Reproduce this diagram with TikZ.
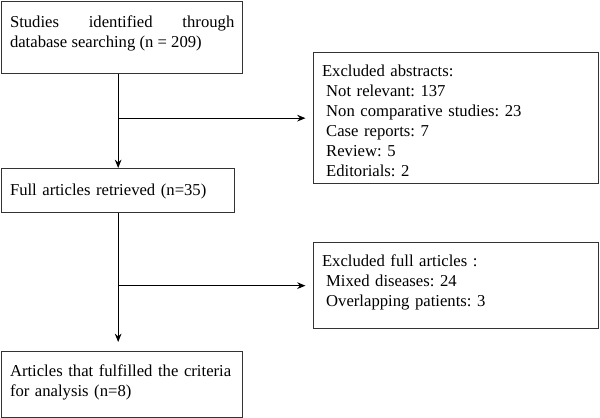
\documentclass[tikz,border=0pt]{standalone}
\usepackage{fontspec}
\setmainfont{Liberation Serif}
\usetikzlibrary{arrows.meta}
\tikzset{
    box/.style={draw, line width=0.8pt, draw=black!80, anchor=north west,
        inner xsep=5pt, inner ysep=8pt, align=left,
        font=\fontsize{10}{12}\selectfont\frenchspacing},
    arr/.style={line width=0.6pt, -{Stealth[length=5pt, width=4pt]}}
}

\begin{document}
\begin{tikzpicture}
  \useasboundingbox (0pt, 0pt) rectangle (360pt, -250.8pt);
  \node (search) [box, align=justify, text width=134.6pt, text height=7.6pt, text depth=19.6pt] at (0.6pt, -0.6pt)
    {Studies identified through database searching (n = 209)};
  \node (excabs) [box, text width=161pt, text height=6.4pt, text depth=56.2pt] at (187.8pt, -31.2pt)
    {Excluded abstracts:\\
     \hspace{2.5pt}Not relevant: 137\\
     \hspace{2.5pt}Non comparative studies: 23\\
     \hspace{2.5pt}Case reports: 7\\
     \hspace{2.5pt}Review: 5\\
     \hspace{2.5pt}Editorials: 2};
  \node (full) [box, text width=129.8pt, text height=8.2pt, text depth=2.2pt] at (0.6pt, -100.8pt)
    {Full articles retrieved (n=35)};
  \node (excfull) [box, text width=161pt, text height=6.4pt, text depth=29.2pt] at (187.8pt, -145.2pt)
    {Excluded full articles :\\
     \hspace{2.5pt}Mixed diseases: 24\\
     \hspace{2.5pt}Overlapping patients: 3};
  \node (final) [box, text width=134.6pt, text height=7pt, text depth=16.6pt] at (0.6pt, -210.6pt)
    {Articles that fulfilled the criteria\\for analysis (n=8)};

  \draw [arr] (full.north |- search.south) -- (full.north);
  \draw [arr, shorten >=4.5pt] (full.north |- excabs.west) -- (excabs.west);
  \draw [arr, shorten >=5.4pt] (full.south) -- (full.south |- final.north);
  \draw [arr, shorten >=4.5pt] (full.south |- excfull.west) -- (excfull.west);
\end{tikzpicture}
\end{document}
